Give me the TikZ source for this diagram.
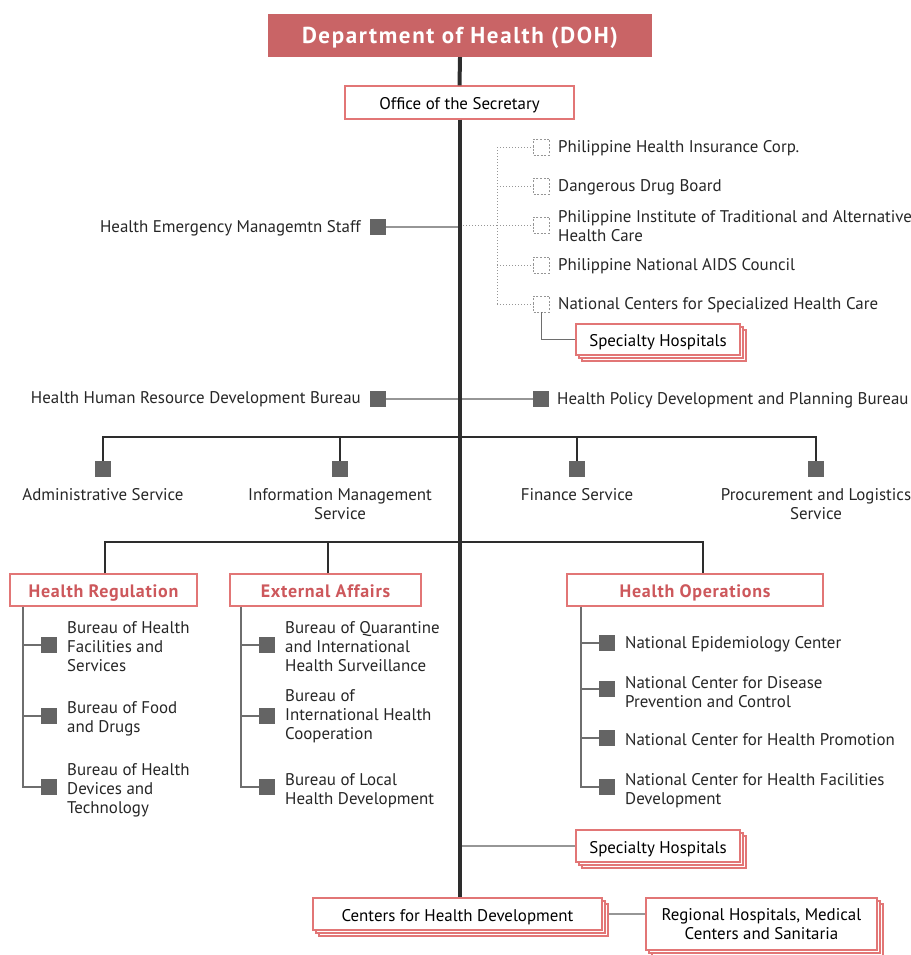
\documentclass[tikz,border=0pt]{standalone}
\usepackage{fontspec}
\setmainfont{PT Sans}
\usetikzlibrary{positioning,shadows}
\definecolor{dohred}{RGB}{201,100,102}
\definecolor{boxred}{RGB}{226,118,118}
\definecolor{headred}{RGB}{205,88,92}
\definecolor{spinegray}{RGB}{45,45,45}
\definecolor{linkgray}{RGB}{150,150,150}
\definecolor{treegray}{RGB}{110,110,110}
\definecolor{sqgray}{RGB}{100,100,100}
\tikzset{
  box/.style={draw=boxred, fill=white, line width=1.1pt, inner sep=0pt, align=center,
    font=\fontsize{16.9}{19}\selectfont},
  oneline/.style={text height=14pt, text depth=0pt},
  stackbox/.style={box,
    general shadow={shadow xshift=6pt, shadow yshift=-6pt, fill=white, draw=boxred, line width=1.1pt},
    general shadow={shadow xshift=3pt, shadow yshift=-3pt, fill=white, draw=boxred, line width=1.1pt}},
  headbox/.style={box, oneline, font=\fontsize{18}{19}\selectfont\bfseries\addfontfeatures{LetterSpace=4}, text=headred, minimum height=32pt},
  sq/.style={fill=sqgray, minimum size=16pt, inner sep=0pt},
  dsq/.style={draw=linkgray, dash pattern=on 2pt off 1.6pt, line width=0.8pt, minimum size=16pt, inner sep=0pt},
  lbl/.style={font=\fontsize{16.9}{19}\selectfont, inner sep=0pt, text=black!85, yshift=-1.5pt},
  spine/.style={draw=spinegray, line width=4pt},
  bar/.style={draw=spinegray, line width=1.3pt},
  link/.style={draw=linkgray, line width=2pt},
  tree/.style={draw=treegray, line width=1.4pt},
  dotline/.style={draw=linkgray, line width=1pt, dash pattern=on 1pt off 2pt}
}
\begin{document}
\begin{tikzpicture}[x=1pt, y=-1pt]
  \useasboundingbox (0,0) rectangle (910,955);

  % top
  \node[fill=dohred, minimum width=384pt, minimum height=43pt, text=white, text height=17pt, text depth=0pt,
    font=\fontsize{23}{24}\selectfont\bfseries\addfontfeatures{LetterSpace=7}] (doh) at (460,35.5) {Department of Health (DOH)};
  \node[box, oneline, minimum width=229pt, minimum height=33pt] (osec) at (459.5,102.5) {Office of the Secretary};

  % attached agencies (dotted)
  \coordinate (dtrunk) at (497,0);
  \node[dsq] (ag1-sq) at (541.5,147) {};
  \node[dsq] (ag2-sq) at (541.5,186) {};
  \node[dsq] (ag3-sq) at (541.5,225) {};
  \node[dsq] (ag4-sq) at (541.5,265) {};
  \node[dsq] (ag5-sq) at (541.5,304) {};
  \node[lbl, anchor=west] (ag1) at (558,147) {Philippine Health Insurance Corp.};
  \node[lbl, anchor=west] (ag2) at (558,186) {Dangerous Drug Board};
  \node[lbl, anchor=west, align=left] (ag3) at (558,224.5) {Philippine Institute of Traditional and Alternative\\Health Care};
  \node[lbl, anchor=west] (ag4) at (558,265) {Philippine National AIDS Council};
  \node[lbl, anchor=west] (ag5) at (558,304) {National Centers for Specialized Health Care};
  \draw[dotline] (ag1-sq.west -| dtrunk) -- (ag5-sq.west -| dtrunk);
  \foreach \a in {1,...,5}
    \draw[dotline] (ag\a-sq.west -| dtrunk) -- (ag\a-sq.west);
  \draw[dotline] (ag3-sq.west -| doh.south) -- (ag3-sq.west -| dtrunk);

  \node[stackbox, oneline, minimum width=164pt, minimum height=31pt] (sh1) at (658,339.5) {Specialty Hospitals};
  \draw[tree] (ag5-sq.south) |- (sh1.west);

  % staff bureaus
  \node[sq] (hems-sq) at (378,227) {};
  \node[lbl, anchor=east] (hems) at (361,227) {Health Emergency Managemtn Staff};
  \draw[link] (hems-sq.east) -- (hems-sq.east -| doh.south);

  \node[sq] (hhrdb-sq) at (378,399) {};
  \node[lbl, anchor=east] (hhrdb) at (361,398) {Health Human Resource Development Bureau};
  \node[sq] (hpdpb-sq) at (541,399) {};
  \node[lbl, anchor=west] (hpdpb) at (557,399) {Health Policy Development and Planning Bureau};
  \draw[link] (hhrdb-sq.east) -- (hpdpb-sq.west);

  % services
  \coordinate (svcbar) at (0,437);
  \node[sq] (adm-sq) at (103,469) {};
  \node[sq] (ims-sq) at (340,469) {};
  \node[sq] (fin-sq) at (577,469) {};
  \node[sq] (plog-sq) at (816,469) {};
  \node[lbl, align=center, below=10pt of adm-sq] (adm) {Administrative Service};
  \node[lbl, align=center, below=10pt of ims-sq] (ims) {Information Management\\Service};
  \node[lbl, align=center, below=10pt of fin-sq] (fin) {Finance Service};
  \node[lbl, align=center, below=10pt of plog-sq] (plog) {Procurement and Logistics\\Service};
  \draw[bar] (adm-sq.north) -- (adm-sq.north |- svcbar) -| (plog-sq.north);
  \draw[bar] (ims-sq.north) -- (ims-sq.north |- svcbar);
  \draw[bar] (fin-sq.north) -- (fin-sq.north |- svcbar);

  % clusters
  \coordinate (clbar) at (0,542);
  \node[headbox, minimum width=187pt] (hreg) at (103.5,590) {Health Regulation};
  \node[headbox, minimum width=191pt] (exta) at (325.5,590) {External Affairs};
  \node[headbox, minimum width=256pt] (hops) at (695,590) {Health Operations};
  \draw[bar] ([xshift=1.5pt]hreg.north) -- ([xshift=1.5pt]hreg.north |- clbar)
    -| ([xshift=8pt]hops.north);
  \draw[bar] ([xshift=2.5pt]exta.north) -- ([xshift=2.5pt]exta.north |- clbar);

  % Health Regulation
  \coordinate (hrtrunk) at (23,0);
  \node[sq] (hr1-sq) at (49,645) {};
  \node[sq] (hr2-sq) at (49,716) {};
  \node[sq] (hr3-sq) at (49,787) {};
  \node[lbl, anchor=west, align=left] (hr1) at (67,645) {Bureau of Health\\Facilities and\\Services};
  \node[lbl, anchor=west, align=left] (hr2) at (67,717) {Bureau of Food\\and Drugs};
  \node[lbl, anchor=west, align=left] (hr3) at (67,789) {Bureau of Health\\Devices and\\Technology};
  \draw[tree] (hreg.south -| hrtrunk) |- (hr3-sq.west);
  \draw[tree] (hr1-sq.west -| hrtrunk) -- (hr1-sq.west);
  \draw[tree] (hr2-sq.west -| hrtrunk) -- (hr2-sq.west);

  % External Affairs
  \coordinate (eatrunk) at (241,0);
  \node[sq] (ea1-sq) at (267,645) {};
  \node[sq] (ea2-sq) at (267,716) {};
  \node[sq] (ea3-sq) at (267,787) {};
  \node[lbl, anchor=west, align=left] (ea1) at (285,645) {Bureau of Quarantine\\and International\\Health Surveillance};
  \node[lbl, anchor=west, align=left] (ea2) at (285,715) {Bureau of\\International Health\\Cooperation};
  \node[lbl, anchor=west, align=left] (ea3) at (285,789.5) {Bureau of Local\\Health Development};
  \draw[tree] (exta.south -| eatrunk) |- (ea3-sq.west);
  \draw[tree] (ea1-sq.west -| eatrunk) -- (ea1-sq.west);
  \draw[tree] (ea2-sq.west -| eatrunk) -- (ea2-sq.west);

  % Health Operations
  \coordinate (hotrunk) at (581,0);
  \node[sq] (ho1-sq) at (607,643) {};
  \node[sq] (ho2-sq) at (607,689) {};
  \node[sq] (ho3-sq) at (607,738) {};
  \node[sq] (ho4-sq) at (607,787) {};
  \node[lbl, anchor=west] (ho1) at (625,643) {National Epidemiology Center};
  \node[lbl, anchor=west, align=left] (ho2) at (625,690.5) {National Center for Disease\\Prevention and Control};
  \node[lbl, anchor=west] (ho3) at (625,738) {National Center for Health Promotion};
  \node[lbl, anchor=west, align=left] (ho4) at (625,789.5) {National Center for Health Facilities\\Development};
  \draw[tree] (hops.south -| hotrunk) |- (ho4-sq.west);
  \foreach \h in {1,2,3}
    \draw[tree] (ho\h-sq.west -| hotrunk) -- (ho\h-sq.west);

  % bottom
  \node[stackbox, oneline, minimum width=164pt, minimum height=32pt] (sh2) at (658,846) {Specialty Hospitals};
  \node[stackbox, oneline, minimum width=289pt, minimum height=32pt] (chd) at (457.5,914) {Centers for Health Development};
  \node[stackbox, minimum width=231pt, minimum height=52pt] (rhm) at (761.5,924) {Regional Hospitals, Medical\\Centers and Sanitaria};
  \draw[link] (sh2.west) -- (sh2.west -| doh.south);
  \draw[link] ([xshift=6pt]chd.east) -- (chd.east -| rhm.west);

  % main line
  \draw[spine] (doh.south) -- (osec.north);
  \draw[spine] (osec.south) -- (osec.south |- chd.north);
\end{tikzpicture}
\end{document}
